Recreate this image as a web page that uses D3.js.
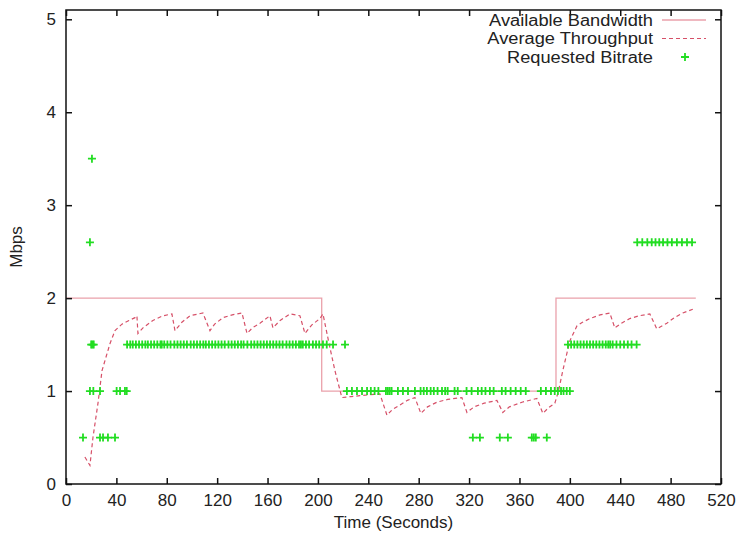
<!DOCTYPE html>
<html>
<head>
<meta charset="utf-8">
<script src="https://cdn.jsdelivr.net/npm/d3@7"></script>
<style>
  body { margin: 0; background: #fff; }
  svg { display: block; font-family: 'Liberation Sans', Arial, sans-serif; }
</style>
</head>
<body>
<div id="chart"></div>
<script>
// tick labels
const xTickValues = [0, 40, 80, 120, 160, 200, 240, 280, 320, 360, 400, 440, 480, 520];
const yTickValues = [0, 1, 2, 3, 4, 5];

// available bandwidth [seconds, Mbps]
const bandwidth = [[0, 2], [203, 2], [203, 1], [389, 1], [389, 2], [500, 2]];

// average throughput [seconds, Mbps]
const throughput = [
  [15, 0.29], [19, 0.2], [21.4, 0.5], [25.4, 0.87], [28.6, 1.22], [34.9, 1.51],
  [38.9, 1.65], [44.4, 1.72], [50, 1.76], [54.8, 1.79], [56.3, 1.81], [57.1, 1.62],
  [61.1, 1.68], [69, 1.76], [77, 1.81], [84.1, 1.83], [86.5, 1.65], [92, 1.74],
  [98.4, 1.81], [108.7, 1.84], [114.3, 1.65], [118, 1.72], [124.6, 1.79], [132, 1.82],
  [139.7, 1.84], [143.7, 1.62], [148, 1.68], [154, 1.73], [161.9, 1.81], [164.3, 1.68],
  [170, 1.76], [177.8, 1.83], [185.7, 1.81], [189.7, 1.62], [195, 1.71], [201.6, 1.78],
  [204, 1.83], [209, 1.5], [213.5, 1.22], [219, 0.93], [226, 0.94], [233.3, 0.95],
  [241, 0.96], [249.2, 0.97], [254.8, 0.74], [259, 0.8], [265.1, 0.85], [271, 0.9],
  [277, 0.93], [281.7, 0.76], [287, 0.83], [294.4, 0.88], [303, 0.91], [314.3, 0.93],
  [318.3, 0.77], [324, 0.83], [332, 0.87], [342.1, 0.9], [346.8, 0.77], [352, 0.83],
  [362, 0.88], [373.8, 0.92], [378.6, 0.76], [383, 0.82], [388.1, 0.87], [391, 1.0],
  [394.4, 1.22], [400, 1.54], [405.6, 1.7], [410, 1.74], [415.9, 1.78], [424, 1.82],
  [431.7, 1.84], [435.7, 1.68], [441, 1.73], [447.6, 1.78], [455, 1.81], [463.5, 1.83],
  [469, 1.67], [477, 1.73], [483, 1.79], [489.7, 1.84], [497.6, 1.88]
];

// requested bitrate: times (seconds) at each bitrate level
const requested050 = [13.5, 27, 29.4, 33.3, 38.9, 323, 328.6, 344.4, 350.8, 369.8, 371.4, 373, 381.7];
const requested100 = [
  19, 21.7, 27, 40.2, 42.9, 46.8, 48.2,
  223, 227, 231, 235, 239, 242, 245, 248, 254, 255.5, 257, 258.5, 263.5, 267.5, 271.5,
  277, 281.5, 284, 286.5, 289.5, 292, 295, 298.5, 301, 303, 308.5, 311, 318, 322, 327,
  330, 333, 336.5, 339.5, 346, 349, 353, 357, 361, 365, 377, 381, 385, 388, 390.5, 393,
  395, 397.5, 400
];
const requested150 = [
  20, 21, 22,
  48.5, 51, 53, 55.5, 58, 60.5, 63, 65, 67.5, 70, 72.5, 75, 76, 78, 80.5, 83, 86, 88.5,
  91, 93.5, 96, 99, 101.5, 104, 106.5, 109, 111, 113.5, 116, 118.5, 121, 123.5, 126,
  129, 131.5, 134, 136.5, 139, 141, 144, 147, 149.5, 152, 154.5, 157, 159.5, 162, 164.5,
  167, 169.5, 172, 175, 177.5, 180, 182.5, 185, 186.5, 188, 190.5, 193, 196, 198.5, 201,
  204, 207, 212, 221.5,
  398.5, 401, 403.5, 406, 408.5, 411, 413.5, 416, 418.5, 421, 423.5, 426, 428.5, 430.5,
  432, 434, 437, 440, 443, 446, 449, 453
];
const requested260 = [19, 453.5, 457.5, 461.5, 465, 468, 471, 474, 477.5, 481, 485, 489, 493, 497];
const requested350 = [20.6];

const legendLabels = ['Available Bandwidth', 'Average Throughput', 'Requested Bitrate'];

const totalWidth = 741;
const totalHeight = 534;
const marginTop = 10;
const marginBottom = 50;
const marginLeft = 66;
const marginRight = 20;
const width = totalWidth - marginLeft - marginRight;
const height = totalHeight - marginTop - marginBottom;

const bandColor = '#eaa1ab';
const thruColor = '#d65068';
const plusColor = '#22dd22';

const $svg = d3.select('#chart').append('svg')
  .attr('width', totalWidth)
  .attr('height', totalHeight);

const $g = $svg.append('g')
  .attr('transform', `translate(${marginLeft}, ${marginTop})`);

// scales (top border sits a little above 5)
const scaleX = d3.scaleLinear().domain([0, 520]).range([0, width]);
const scaleY = d3.scaleLinear().domain([0, 5.1]).range([height, 0]);

// requested bitrate points, flattened
const requested = []
  .concat(requested050.map(t => [t, 0.5]))
  .concat(requested100.map(t => [t, 1]))
  .concat(requested150.map(t => [t, 1.5]))
  .concat(requested260.map(t => [t, 2.6]))
  .concat(requested350.map(t => [t, 3.5]));

const line = d3.line()
  .x(d => scaleX(d[0]))
  .y(d => scaleY(d[1]));

// gnuplot style plus
const plusPath = (x, y, r) => `M${x - r},${y}H${x + r}M${x},${y - r}V${y + r}`;

// lines
$g.append('path')
  .datum(bandwidth)
  .attr('d', line)
  .attr('fill', 'none')
  .attr('stroke', bandColor)
  .attr('stroke-width', 1.3);

$g.append('path')
  .datum(throughput)
  .attr('d', line)
  .attr('fill', 'none')
  .attr('stroke', thruColor)
  .attr('stroke-width', 1.2)
  .attr('stroke-dasharray', '4,3');

$g.append('g')
  .selectAll('path')
  .data(requested)
  .join('path')
  .attr('d', d => plusPath(scaleX(d[0]), scaleY(d[1]), 4))
  .attr('stroke', plusColor)
  .attr('stroke-width', 1.8)
  .attr('fill', 'none');

// axes, ticks inward and mirrored
const tickLen = 6;
const axisBottom = d3.axisBottom(scaleX).tickValues(xTickValues).tickSize(-tickLen).tickPadding(10);
const axisTop = d3.axisTop(scaleX).tickValues(xTickValues).tickSize(-tickLen).tickFormat('');
const axisLeft = d3.axisLeft(scaleY).tickValues(yTickValues).tickSize(-tickLen).tickPadding(10)
  .tickFormat(d3.format('d'));
const axisRight = d3.axisRight(scaleY).tickValues(yTickValues).tickSize(-tickLen).tickFormat('');

const $axes = $g.append('g').attr('class', 'g-axis');
$axes.append('g').attr('transform', `translate(0, ${height})`).call(axisBottom);
$axes.append('g').call(axisTop);
$axes.append('g').call(axisLeft);
$axes.append('g').attr('transform', `translate(${width}, 0)`).call(axisRight);

$axes.selectAll('.domain').remove();
$axes.selectAll('.tick line').attr('stroke', '#111').attr('stroke-width', 1.5);
$axes.selectAll('.tick text')
  .attr('fill', '#222')
  .style('font-size', '17px')
  .style('font-family', "'Liberation Sans', Arial, sans-serif");

// border box
$g.append('rect')
  .attr('width', width)
  .attr('height', height)
  .attr('fill', 'none')
  .attr('stroke', '#111')
  .attr('stroke-width', 1.5);

// axis titles
$svg.append('text')
  .attr('x', marginLeft + width / 2)
  .attr('y', 528)
  .attr('text-anchor', 'middle')
  .attr('fill', '#222')
  .style('font-size', '17px')
  .text('Time (Seconds)');

$svg.append('text')
  .attr('transform', `translate(22, ${scaleY(2.55) + marginTop}) rotate(-90)`)
  .attr('text-anchor', 'middle')
  .attr('fill', '#222')
  .style('font-size', '17px')
  .text('Mbps');

// legend
const legendX = 653;
const legendY = [20, 38.5, 57];
const $legend = $svg.append('g').attr('class', 'g-legend');

// the source text is drawn a bit wide, so stretch it a little
$legend.selectAll('text')
  .data(legendLabels)
  .join('text')
  .attr('x', legendX)
  .attr('y', (d, i) => legendY[i])
  .attr('dy', '0.35em')
  .attr('text-anchor', 'end')
  .attr('fill', '#222')
  .style('font-size', '16px')
  .text(d => d)
  .each(function() {
    const w = this.getComputedTextLength();
    d3.select(this)
      .attr('textLength', w * 1.14)
      .attr('lengthAdjust', 'spacingAndGlyphs');
  });

$legend.append('line')
  .attr('x1', 662).attr('x2', 706)
  .attr('y1', legendY[0]).attr('y2', legendY[0])
  .attr('stroke', bandColor)
  .attr('stroke-width', 1.3);

$legend.append('line')
  .attr('x1', 662).attr('x2', 706)
  .attr('y1', legendY[1]).attr('y2', legendY[1])
  .attr('stroke', thruColor)
  .attr('stroke-width', 1.2)
  .attr('stroke-dasharray', '4,3');

$legend.append('path')
  .attr('d', plusPath(685, legendY[2], 4))
  .attr('stroke', plusColor)
  .attr('stroke-width', 1.8);
</script>
</body>
</html>
